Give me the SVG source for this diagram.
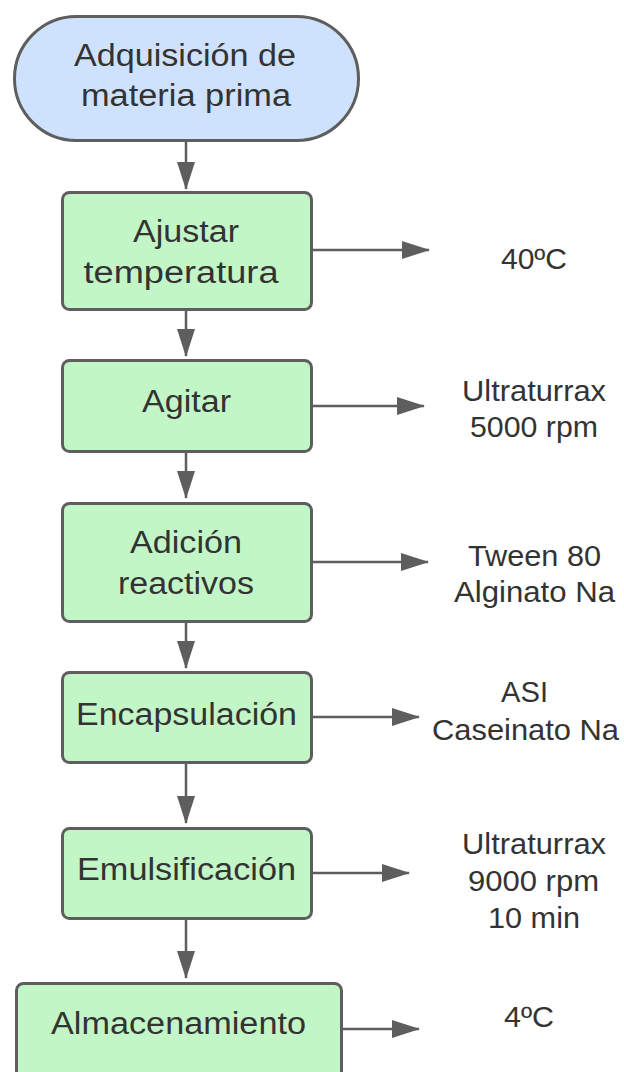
<svg xmlns="http://www.w3.org/2000/svg" width="624" height="1072" viewBox="0 0 624 1072">
<style>
.term{fill:#cfe2fd;stroke:#5e5e5e;stroke-width:3}
.box{fill:#c3f6c7;stroke:#5e5e5e;stroke-width:3}
.lbl{font-family:"Liberation Sans",Arial,sans-serif;font-size:31px;fill:#333333;text-anchor:middle}
.side{font-family:"Liberation Sans",Arial,sans-serif;font-size:29px;fill:#333333;text-anchor:middle}
.conn line{stroke:#5e5e5e;stroke-width:2.5;fill:none}
</style>
<defs>
<marker id="ah" markerUnits="userSpaceOnUse" markerWidth="28" markerHeight="18" refX="27" refY="9" orient="auto">
<path d="M0,0 L28,9 L0,18 Z" fill="#5e5e5e"/>
</marker>
</defs>
<rect width="624" height="1072" fill="#ffffff"/>
<g class="conn" id="connectors">
<line x1="186" y1="142" x2="186" y2="189" marker-end="url(#ah)"/>
<line x1="186" y1="311" x2="186" y2="356" marker-end="url(#ah)"/>
<line x1="186" y1="453" x2="186" y2="498" marker-end="url(#ah)"/>
<line x1="186" y1="623" x2="186" y2="668" marker-end="url(#ah)"/>
<line x1="186" y1="764" x2="186" y2="823" marker-end="url(#ah)"/>
<line x1="186" y1="920" x2="186" y2="978" marker-end="url(#ah)"/>
<line x1="313" y1="250" x2="429" y2="250" marker-end="url(#ah)"/>
<line x1="313" y1="406" x2="424" y2="406" marker-end="url(#ah)"/>
<line x1="313" y1="562" x2="428" y2="562" marker-end="url(#ah)"/>
<line x1="313" y1="717" x2="419" y2="717" marker-end="url(#ah)"/>
<line x1="313" y1="873" x2="409" y2="873" marker-end="url(#ah)"/>
<line x1="343" y1="1029" x2="419" y2="1029" marker-end="url(#ah)"/>
</g>
<g id="start">
<rect class="term" x="14.5" y="16.5" width="344" height="124" rx="62" ry="62"/>
<text class="lbl" x="185" y="66" textLength="222" lengthAdjust="spacingAndGlyphs">Adquisición de</text>
<text class="lbl" x="186" y="106" textLength="210" lengthAdjust="spacingAndGlyphs">materia prima</text>
</g>
<g id="ajustar">
<rect class="box" x="62.5" y="192.5" width="249" height="117" rx="7"/>
<text class="lbl" x="186" y="242" textLength="106" lengthAdjust="spacingAndGlyphs">Ajustar</text>
<text class="lbl" x="181" y="283" textLength="195" lengthAdjust="spacingAndGlyphs">temperatura</text>
</g>
<g id="agitar">
<rect class="box" x="62.5" y="360.5" width="249" height="91" rx="7"/>
<text class="lbl" x="186.5" y="412" textLength="89" lengthAdjust="spacingAndGlyphs">Agitar</text>
</g>
<g id="adicion">
<rect class="box" x="62.5" y="503.5" width="249" height="118" rx="7"/>
<text class="lbl" x="186" y="553" textLength="112" lengthAdjust="spacingAndGlyphs">Adición</text>
<text class="lbl" x="186" y="594" textLength="136" lengthAdjust="spacingAndGlyphs">reactivos</text>
</g>
<g id="encapsulacion">
<rect class="box" x="62.5" y="672.5" width="249" height="90" rx="7"/>
<text class="lbl" x="186.5" y="725" textLength="221" lengthAdjust="spacingAndGlyphs">Encapsulación</text>
</g>
<g id="emulsificacion">
<rect class="box" x="62.5" y="828.5" width="249" height="90" rx="7"/>
<text class="lbl" x="186.5" y="880" textLength="219" lengthAdjust="spacingAndGlyphs">Emulsificación</text>
</g>
<g id="almacenamiento">
<rect class="box" x="16.5" y="983.5" width="325" height="100" rx="7"/>
<text class="lbl" x="178.5" y="1034" textLength="255" lengthAdjust="spacingAndGlyphs">Almacenamiento</text>
</g>
<g id="t40">
<text class="side" x="534" y="269" textLength="66" lengthAdjust="spacingAndGlyphs">40ºC</text>
</g>
<g id="ultra1">
<text class="side" x="534" y="401" textLength="144" lengthAdjust="spacingAndGlyphs">Ultraturrax</text>
<text class="side" x="534" y="437" textLength="128" lengthAdjust="spacingAndGlyphs">5000 rpm</text>
</g>
<g id="tween">
<text class="side" x="534.5" y="566" textLength="133" lengthAdjust="spacingAndGlyphs">Tween 80</text>
<text class="side" x="534.5" y="602" textLength="161" lengthAdjust="spacingAndGlyphs">Alginato Na</text>
</g>
<g id="asi">
<text class="side" x="524.5" y="702" textLength="47" lengthAdjust="spacingAndGlyphs">ASI</text>
<text class="side" x="525.5" y="740" textLength="187" lengthAdjust="spacingAndGlyphs">Caseinato Na</text>
</g>
<g id="ultra2">
<text class="side" x="534" y="854" textLength="144" lengthAdjust="spacingAndGlyphs">Ultraturrax</text>
<text class="side" x="533.5" y="891" textLength="131" lengthAdjust="spacingAndGlyphs">9000 rpm</text>
<text class="side" x="534" y="928" textLength="92" lengthAdjust="spacingAndGlyphs">10 min</text>
</g>
<g id="t4">
<text class="side" x="529" y="1027" textLength="50" lengthAdjust="spacingAndGlyphs">4ºC</text>
</g>
</svg>
